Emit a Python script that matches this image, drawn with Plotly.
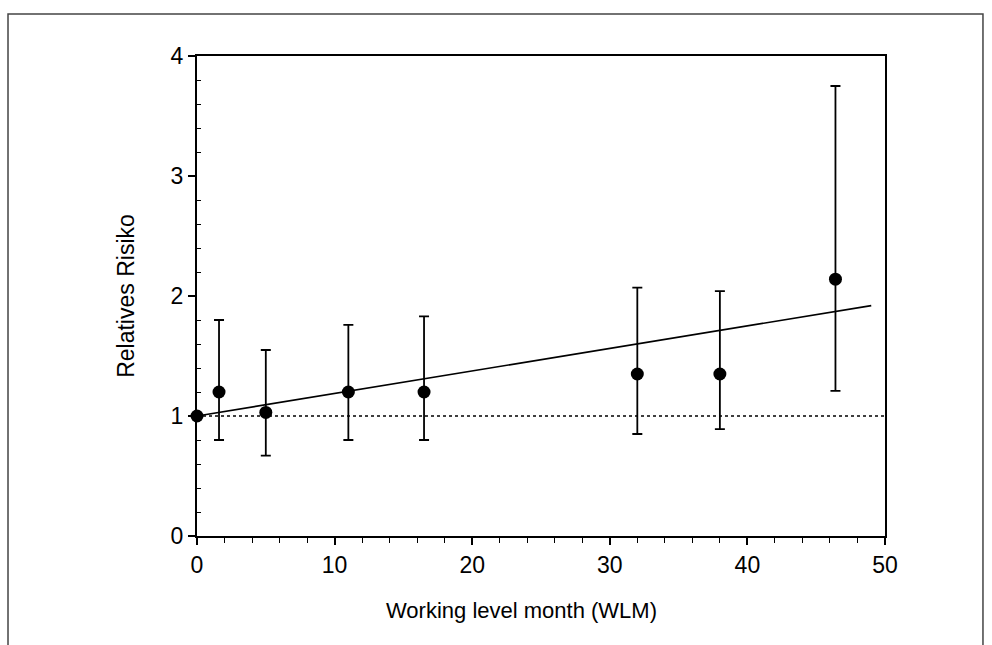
import plotly.graph_objects as go

# Data
wlm = [0, 1.6, 5, 11, 16.5, 32, 38, 46.4]
rr = [1.0, 1.2, 1.03, 1.2, 1.2, 1.35, 1.35, 2.14]
rr_upper = [1.0, 1.80, 1.55, 1.76, 1.83, 2.07, 2.04, 3.75]
rr_lower = [1.0, 0.80, 0.67, 0.80, 0.80, 0.85, 0.89, 1.21]
fit_x = [0, 49]
fit_y = [1.0, 1.92]
ref_x = [0, 50]
ref_y = [1, 1]
x_title = "Working level month (WLM)"
y_title = "Relatives Risiko"

err_plus = [u - v for u, v in zip(rr_upper, rr)]
err_minus = [v - l for v, l in zip(rr, rr_lower)]

FONT = "Liberation Sans, Arial, sans-serif"

fig = go.Figure()
fig.add_trace(go.Scatter(x=ref_x, y=ref_y, mode="lines",
                         line=dict(color="black", width=1.3, dash="dot"),
                         hoverinfo="skip", showlegend=False))
fig.add_trace(go.Scatter(x=fit_x, y=fit_y, mode="lines",
                         line=dict(color="black", width=1.6),
                         showlegend=False))
fig.add_trace(go.Scatter(
    x=wlm, y=rr, mode="markers",
    marker=dict(color="black", size=13),
    error_y=dict(type="data", symmetric=False, array=err_plus,
                 arrayminus=err_minus, color="black", thickness=1.8, width=5),
    cliponaxis=False, showlegend=False))

fig.update_xaxes(
    range=[0, 50], tickvals=[0, 10, 20, 30, 40, 50],
    ticks="outside", ticklen=7, tickwidth=1.5, tickcolor="black",
    minor=dict(tickvals=[v for v in range(2, 50, 2) if v % 10 != 0],
               ticks="outside", ticklen=5, tickwidth=1.2, tickcolor="black"),
    showline=True, linecolor="black", linewidth=2, mirror=True,
    showgrid=False, zeroline=False,
    tickfont=dict(family=FONT, size=23, color="black"),
)
fig.update_yaxes(
    range=[0, 4], tickvals=[0, 1, 2, 3, 4],
    ticks="outside", ticklen=7, tickwidth=1.5, tickcolor="black",
    minor=dict(tickvals=[i / 5 for i in range(1, 20) if i % 5 != 0],
               ticks="inside", ticklen=4, tickwidth=1.2, tickcolor="black"),
    showline=True, linecolor="black", linewidth=2, mirror=True,
    showgrid=False, zeroline=False,
    tickfont=dict(family=FONT, size=23, color="black"),
    title=dict(text=y_title,
               font=dict(family=FONT, size=23, color="black"), standoff=30),
)

fig.add_annotation(text=x_title, xref="paper", yref="paper",
                   x=0.472, y=-0.155, xanchor="center", yanchor="middle",
                   showarrow=False,
                   font=dict(family=FONT, size=22, color="black"))

# Outer frame of the figure
fig.add_shape(type="path", xref="paper", yref="paper",
              path="M -0.2747,-0.25 L -0.2747,1.0875 L 1.1424,1.0875 L 1.1424,-0.25",
              line=dict(color="#444", width=1.5))

fig.update_layout(
    width=992, height=645,
    margin=dict(l=197, r=107, t=56, b=109),
    paper_bgcolor="white", plot_bgcolor="white",
)

fig.write_html("out.html")
